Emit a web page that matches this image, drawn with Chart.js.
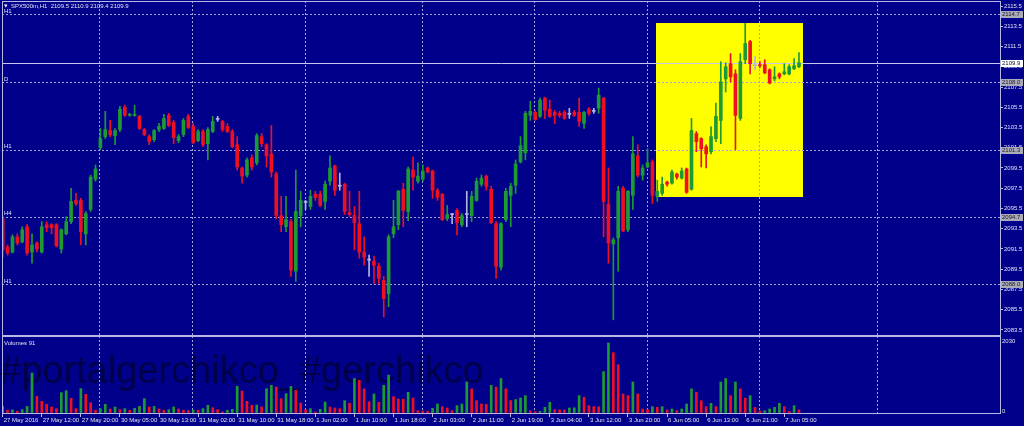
<!DOCTYPE html>
<html><head><meta charset="utf-8">
<script src="https://cdn.jsdelivr.net/npm/chart.js@4.4.1/dist/chart.umd.min.js"></script>
<style>
html,body{margin:0;padding:0;background:#00008b;width:1024px;height:426px;overflow:hidden}
canvas{position:absolute;left:0}
#main{top:0}
#vol{top:336px}
</style></head><body>
<canvas id="main" width="1024" height="336"></canvas>
<canvas id="vol" width="1024" height="90"></canvas>
<script>
// ---------- DATA ----------
const symbol = 'SPX500m,H1';
const opens = [2094.5,2091.7,2091.2,2092.7,2092.2,2093.7,2091.2,2092.1,2091.2,2093.9,2093.9,2093.9,2091.5,2093.0,2094.2,2096.3,2096.3,2093.0,2095.4,2098.4,
2101.5,2102.6,2103.2,2102.7,2103.3,2105.5,2104.7,2104.7,2104.6,2103.3,2102.6,2102.3,2103.3,2103.4,2104.7,2104.0,2102.2,2102.8,2104.6,2103.6,
2102.2,2103.1,2101.9,2103.1,2104.3,2104.1,2103.6,2103.1,2101.8,2099.5,2098.8,2100.5,2100.0,2102.6,2101.8,2100.9,2098.9,2094.8,2093.7,2094.2,
2089.3,2094.8,2096.1,2095.7,2096.9,2096.9,2096.2,2098.2,2099.7,2097.7,2097.9,2095.1,2094.8,2094.0,2091.2,2090.4,2090.3,2089.8,2088.4,2087.1,
2093.0,2093.9,2097.4,2095.2,2099.3,2098.2,2098.4,2099.5,2099.2,2097.3,2096.9,2094.5,2094.9,2095.3,2093.9,2094.9,2094.8,2096.3,2097.9,2098.7,
2097.4,2094.0,2089.7,2094.4,2096.8,2097.8,2100.1,2101.0,2104.7,2105.0,2104.6,2106.4,2105.3,2105.0,2104.9,2105.0,2104.8,2105.0,2105.0,2103.9,
2105.3,2105.1,2105.4,2106.4,2095.9,2092.0,2092.6,2097.5,2093.4,2096.8,2100.7,2098.8,2099.6,2100.1,2096.7,2097.0,2098.1,2098.0,2098.9,2098.5,
2099.4,2097.4,2102.9,2102.4,2101.6,2101.1,2102.4,2104.2,2108.3,2109.8,2108.8,2104.4,2110.2,2112.0,2109.6,2109.7,2109.7,2109.2,2108.3,2108.8,
2108.8,2108.8,2109.3,2109.5];
const highs = [2094.7,2091.9,2092.9,2093.0,2093.7,2093.9,2093.0,2092.2,2094.2,2094.2,2094.0,2094.0,2093.5,2094.7,2097.5,2097.0,2096.5,2095.2,2098.8,2099.8,
2103.4,2105.1,2104.2,2103.4,2105.6,2105.7,2104.9,2105.7,2104.7,2103.4,2102.8,2103.3,2103.9,2104.8,2104.9,2104.2,2102.8,2104.4,2104.8,2103.9,
2103.3,2103.3,2103.5,2104.6,2104.6,2104.2,2103.9,2103.3,2102.6,2099.6,2100.5,2100.8,2102.9,2102.9,2101.9,2103.7,2099.1,2096.7,2096.7,2094.4,
2099.3,2097.2,2096.3,2097.3,2097.2,2097.2,2098.2,2100.7,2099.8,2099.0,2098.0,2097.2,2095.7,2097.2,2092.7,2090.9,2090.8,2090.1,2088.8,2092.9,
2096.3,2097.3,2098.0,2099.6,2100.6,2100.0,2099.8,2099.6,2099.3,2097.5,2097.0,2095.8,2095.0,2095.5,2095.0,2097.2,2097.2,2098.5,2098.8,2098.8,
2097.7,2094.2,2094.1,2097.5,2098.0,2100.3,2102.6,2105.1,2106.1,2105.2,2106.4,2106.5,2106.2,2105.2,2105.1,2105.2,2105.4,2105.2,2106.4,2105.1,
2105.5,2105.4,2107.4,2106.5,2099.5,2092.6,2097.7,2097.7,2097.3,2102.6,2101.8,2099.8,2101.4,2100.3,2098.3,2098.6,2098.2,2099.3,2099.0,2099.5,
2099.5,2104.4,2103.1,2102.5,2101.8,2103.6,2105.9,2110.0,2109.9,2110.8,2109.2,2110.8,2113.8,2112.1,2110.5,2110.0,2110.2,2109.3,2109.5,2108.9,
2109.8,2109.7,2110.3,2110.9];
const lows = [2090.7,2090.9,2091.1,2091.9,2092.1,2090.9,2090.1,2091.2,2091.1,2093.2,2093.0,2091.7,2091.1,2092.9,2094.0,2095.8,2091.9,2091.9,2095.2,2098.2,
2101.3,2102.4,2102.6,2101.8,2103.1,2104.6,2104.6,2104.6,2103.3,2102.7,2101.8,2102.1,2103.1,2103.3,2103.6,2101.9,2102.0,2102.6,2103.4,2101.9,
2102.1,2101.6,2100.3,2103.0,2104.1,2103.1,2103.0,2101.5,2099.3,2098.0,2098.6,2099.3,2099.8,2101.6,2099.6,2098.6,2094.5,2093.2,2093.2,2088.8,
2088.3,2093.7,2095.4,2095.4,2096.3,2095.7,2095.4,2097.8,2096.8,2097.3,2094.9,2094.7,2091.4,2090.6,2089.9,2088.8,2088.1,2088.1,2084.8,2085.8,
2092.6,2093.4,2093.7,2094.3,2097.3,2098.0,2098.2,2099.0,2096.5,2096.3,2094.3,2094.3,2094.0,2092.9,2093.7,2093.7,2094.2,2096.2,2097.7,2097.3,
2094.0,2088.6,2089.4,2094.2,2093.7,2097.0,2100.0,2100.3,2104.2,2104.2,2104.5,2104.4,2104.5,2103.9,2104.5,2104.3,2104.4,2104.6,2103.6,2103.4,
2104.7,2104.9,2104.9,2092.7,2090.1,2084.5,2089.3,2093.2,2093.2,2095.4,2098.6,2098.3,2099.5,2096.0,2096.2,2096.8,2097.7,2097.9,2098.4,2098.4,
2097.0,2097.3,2101.1,2099.6,2099.5,2100.9,2102.1,2101.9,2107.0,2108.0,2101.3,2104.2,2109.8,2108.8,2109.2,2109.4,2108.8,2107.8,2108.1,2108.3,
2108.7,2108.7,2109.2,2109.4];
const closes = [2091.4,2091.1,2092.7,2092.1,2093.4,2091.1,2091.9,2091.5,2093.7,2093.6,2093.6,2091.8,2093.4,2094.2,2096.2,2096.0,2093.2,2095.0,2098.6,2099.4,
2102.4,2103.3,2102.8,2103.2,2105.3,2104.7,2104.8,2104.8,2103.4,2102.8,2102.1,2103.2,2103.6,2104.4,2103.7,2102.5,2102.6,2104.2,2103.5,2102.0,
2103.1,2101.8,2103.3,2104.1,2104.3,2103.3,2103.1,2101.6,2099.6,2098.7,2100.3,2099.6,2102.7,2101.9,2100.7,2099.1,2094.8,2093.9,2094.4,2089.4,
2095.2,2096.3,2096.1,2096.7,2096.6,2095.8,2097.9,2099.5,2097.3,2097.7,2095.2,2094.9,2094.1,2091.2,2090.7,2090.4,2089.9,2088.6,2086.6,2092.7,
2093.7,2097.2,2095.3,2099.4,2098.6,2098.7,2099.2,2099.1,2097.3,2096.6,2094.4,2094.9,2094.9,2094.1,2094.8,2094.9,2096.7,2098.2,2098.5,2097.7,
2094.1,2089.8,2094.0,2097.2,2097.7,2099.9,2101.7,2104.9,2105.1,2104.3,2106.2,2105.2,2104.6,2104.7,2104.7,2104.4,2104.8,2104.7,2104.1,2105.0,
2104.9,2105.1,2106.7,2096.2,2092.1,2092.4,2097.2,2093.3,2097.2,2100.9,2098.8,2099.5,2100.0,2096.8,2097.2,2097.9,2097.9,2099.1,2098.6,2099.2,
2097.1,2103.2,2102.1,2101.4,2100.9,2102.6,2104.6,2108.0,2109.5,2108.5,2104.7,2110.0,2111.8,2109.8,2109.6,2109.6,2108.9,2107.9,2108.5,2108.5,
2109.0,2109.5,2109.6,2109.9];
const volumes = [190,77,90,50,97,190,1160,483,338,250,174,126,590,648,425,126,706,541,300,77,
126,251,116,174,97,126,77,135,193,416,174,193,116,77,97,174,116,77,70,85,
77,126,222,155,97,29,77,106,774,638,338,222,230,174,706,803,754,416,561,774,
658,290,97,126,29,106,319,174,145,126,358,280,1000,950,700,329,551,309,800,1100,
474,406,400,600,435,68,60,50,135,261,184,145,68,213,261,900,700,358,261,250,
800,750,1000,700,360,390,435,503,68,40,50,164,309,97,90,85,145,150,503,454,
213,184,180,1200,2030,1750,1400,551,503,900,551,116,100,184,164,184,87,116,68,116,
261,700,600,358,184,280,184,900,1000,503,900,700,435,503,164,60,68,116,164,280,
184,48,213,91];
const tickLabels = ['27 May 2016','27 May 12:00','27 May 20:00','30 May 05:00','30 May 13:00','31 May 02:00','31 May 10:00','31 May 18:00',
'1 Jun 02:00','1 Jun 10:00','1 Jun 18:00','2 Jun 03:00','2 Jun 11:00','2 Jun 19:00','3 Jun 04:00','3 Jun 12:00','3 Jun 20:00',
'6 Jun 05:00','6 Jun 13:00','6 Jun 21:00','7 Jun 05:00'];
const barsPerLabel = 8;
const priceTicks = [2115.5,2113.5,2111.5,2109.5,2107.5,2105.5,2103.5,2101.5,2099.5,2097.5,2095.5,2093.5,2091.5,2089.5,2087.5,2085.5,2083.5];
const volTicks = [0, 2030];
const gridBars = [19.77, 38.81, 61.94, 85.9, 108.86, 131.95, 154.88, 178.98];
const levelPrices = [2114.7, 2108.0, 2101.3, 2094.7, 2088.0];
const levelNames = ['H1', 'D', 'H1', 'H4', 'H1'];
const bidPrice = 2109.9;
const zoneBars = [133.7, 163.8];
const zonePrices = [2096.7, 2113.85];
const watermark = '#portalgerchikco_#gerchikco';

// ---------- STYLE ----------
const BG = '#00008b', GRID = '#a4a4d4', FRAME = '#b8b8e4', TEXT = '#e2e2f0';
const BULL = '#1e9a32', BEAR = '#ee1020', DOJI = '#b4b4e0';
const X_MIN = -0.1433, X_MAX = 204.36;
const P_MIN = 2082.907, P_MAX = 2115.994;
const FONT = '"Liberation Sans", Arial, sans-serif';
Chart.defaults.font.family = FONT;

const idx = opens.map((_, i) => i);
const candleColor = i => closes[i] > opens[i] ? BULL : (closes[i] < opens[i] ? BEAR : DOJI);
const volColor = i => (i === 0 || volumes[i] > volumes[i - 1]) ? BULL : BEAR;

const noPad = s => { s.paddingTop = 0; s.paddingBottom = 0; s.paddingLeft = 0; s.paddingRight = 0; };

const gridAxis = {
  type: 'linear', min: X_MIN, max: X_MAX, position: 'bottom', offset: false,
  afterBuildTicks: s => { s.ticks = gridBars.map(v => ({value: v})); },
  afterFit: s => { s.height = 0; noPad(s); },
  ticks: {display: false},
  grid: {color: GRID, drawTicks: false, lineWidth: 1, offset: false},
  border: {display: false, dash: [2, 2]}
};

const mainDecor = {
  id: 'mainDecor',
  beforeDraw(chart) {
    const {ctx, scales: {x, y}} = chart;
    ctx.save();
    ctx.fillStyle = BG;
    ctx.fillRect(0, 0, chart.width, chart.height);
    const x0 = x.getPixelForValue(zoneBars[0]), x1 = x.getPixelForValue(zoneBars[1]);
    const y0 = y.getPixelForValue(zonePrices[1]), y1 = y.getPixelForValue(zonePrices[0]);
    ctx.fillStyle = '#ffff00';
    ctx.fillRect(Math.round(x0), Math.round(y0), Math.round(x1 - x0), Math.round(y1 - y0));
    ctx.restore();
  },
  beforeDatasetsDraw(chart) {
    const {ctx, chartArea: a, scales: {y}} = chart;
    ctx.save();
    ctx.lineWidth = 1;
    ctx.strokeStyle = GRID;
    ctx.setLineDash([2, 2]);
    levelPrices.forEach(p => {
      const py = Math.round(y.getPixelForValue(p)) + 0.5;
      ctx.beginPath(); ctx.moveTo(a.left, py); ctx.lineTo(a.right, py); ctx.stroke();
    });
    ctx.setLineDash([]);
    ctx.strokeStyle = '#c8c8ee';
    const by = Math.round(y.getPixelForValue(bidPrice)) + 0.5;
    ctx.beginPath(); ctx.moveTo(a.left, by); ctx.lineTo(a.right, by); ctx.stroke();
    ctx.restore();
  },
  afterDraw(chart) {
    const {ctx, scales: {y}} = chart;
    ctx.save();
    ctx.strokeStyle = FRAME; ctx.lineWidth = 1;
    ctx.strokeRect(2.5, 1.5, 998, 334);
    ctx.font = '6px ' + FONT;
    ctx.textBaseline = 'middle';
    ctx.fillStyle = TEXT;
    levelPrices.forEach((p, k) => {
      const py = y.getPixelForValue(p);
      ctx.fillText(levelNames[k], 4, py - 3);
    });
    levelPrices.forEach(p => {
      const py = Math.round(y.getPixelForValue(p));
      ctx.fillStyle = '#aaaab8';
      ctx.fillRect(1001, py - 3, 22, 7);
      ctx.fillStyle = '#202028';
      ctx.fillText(p.toFixed(1), 1002, py + 0.5);
    });
    const by = Math.round(y.getPixelForValue(bidPrice));
    ctx.fillStyle = '#ffffff';
    ctx.fillRect(1001, by - 3, 22, 7);
    ctx.fillStyle = '#101020';
    ctx.fillText(bidPrice.toFixed(1), 1002, by + 0.5);
    const n = opens.length - 1;
    ctx.fillStyle = '#ffffff';
    ctx.beginPath(); ctx.moveTo(4, 4.5); ctx.lineTo(7.5, 4.5); ctx.lineTo(5.75, 7.5); ctx.closePath(); ctx.fill();
    ctx.fillStyle = TEXT;
    ctx.fillText(symbol + '  ' + [opens[n], highs[n], lows[n], closes[n]].map(v => v.toFixed(1)).join(' '), 11, 6);
    ctx.restore();
  }
};

new Chart(document.getElementById('main'), {
  type: 'bar',
  data: {datasets: [
    {data: idx.map(i => ({x: i, y: [lows[i], highs[i]]})), barThickness: 1, grouped: false,
     backgroundColor: c => candleColor(c.dataIndex), order: 2},
    {data: idx.map(i => ({x: i, y: [opens[i], closes[i]]})), barThickness: 3, grouped: false, minBarLength: 1,
     backgroundColor: c => candleColor(c.dataIndex), order: 1}
  ]},
  options: {
    responsive: false, animation: false, devicePixelRatio: 1,
    layout: {padding: {left: 2, top: 1, right: 0, bottom: 0}},
    plugins: {legend: {display: false}, tooltip: {enabled: false}},
    scales: {
      x: {type: 'linear', min: X_MIN, max: X_MAX, display: false, offset: false, grid: {offset: false}},
      xg: gridAxis,
      y: {type: 'linear', position: 'right', min: P_MIN, max: P_MAX, beginAtZero: false,
          afterBuildTicks: s => { s.ticks = priceTicks.map(v => ({value: v})); },
          afterFit: s => { s.width = 23; noPad(s); },
          ticks: {color: TEXT, font: {size: 6}, padding: 1, autoSkip: false, callback: v => v.toFixed(1)},
          grid: {drawOnChartArea: false, drawTicks: true, tickLength: 2, tickColor: FRAME},
          border: {display: false}}
    }
  },
  plugins: [mainDecor]
});

const volDecor = {
  id: 'volDecor',
  beforeDraw(chart) {
    const {ctx} = chart;
    ctx.save();
    ctx.fillStyle = BG;
    ctx.fillRect(0, 0, chart.width, chart.height);
    ctx.font = '38px ' + FONT;
    ctx.fillStyle = 'rgba(0,0,30,0.6)';
    ctx.textBaseline = 'alphabetic';
    ctx.fillText(watermark, 0, 47);
    ctx.restore();
  },
  afterDraw(chart) {
    const {ctx} = chart;
    ctx.save();
    ctx.strokeStyle = FRAME; ctx.lineWidth = 1;
    ctx.strokeRect(2.5, 0.5, 998, 77);
    ctx.font = '6px ' + FONT;
    ctx.textBaseline = 'middle';
    ctx.fillStyle = TEXT;
    ctx.fillText('Volumes ' + volumes[volumes.length - 1], 4, 7);
    ctx.restore();
  }
};

new Chart(document.getElementById('vol'), {
  type: 'bar',
  data: {datasets: [
    {data: idx.map(i => ({x: i, y: volumes[i]})), barThickness: 2, backgroundColor: c => volColor(c.dataIndex)}
  ]},
  options: {
    responsive: false, animation: false, devicePixelRatio: 1,
    layout: {padding: {left: 2, top: 0, right: 0, bottom: 0}},
    plugins: {legend: {display: false}, tooltip: {enabled: false}},
    scales: {
      x: {type: 'linear', min: X_MIN, max: X_MAX, position: 'bottom', offset: false,
          afterBuildTicks: s => { s.ticks = tickLabels.map((_, k) => ({value: k * barsPerLabel})); },
          afterFit: s => { s.height = 12; noPad(s); },
          ticks: {color: TEXT, font: {size: 6, lineHeight: 1}, autoSkip: false, maxRotation: 0, align: 'start',
                  padding: 0, labelOffset: 1, callback: (v, k) => tickLabels[k]},
          grid: {drawOnChartArea: false, drawTicks: true, tickLength: 3, tickColor: FRAME, offset: false},
          border: {display: false}},
      xg: gridAxis,
      y: {type: 'linear', position: 'right', min: -29, max: 2233, beginAtZero: false,
          afterBuildTicks: s => { s.ticks = volTicks.map(v => ({value: v})); },
          afterFit: s => { s.width = 23; noPad(s); },
          ticks: {color: TEXT, font: {size: 6}, padding: 1, labelOffset: -2, autoSkip: false, callback: v => String(v)},
          grid: {drawOnChartArea: false, drawTicks: false},
          border: {display: false}}
    }
  },
  plugins: [volDecor]
});
</script>
</body></html>
